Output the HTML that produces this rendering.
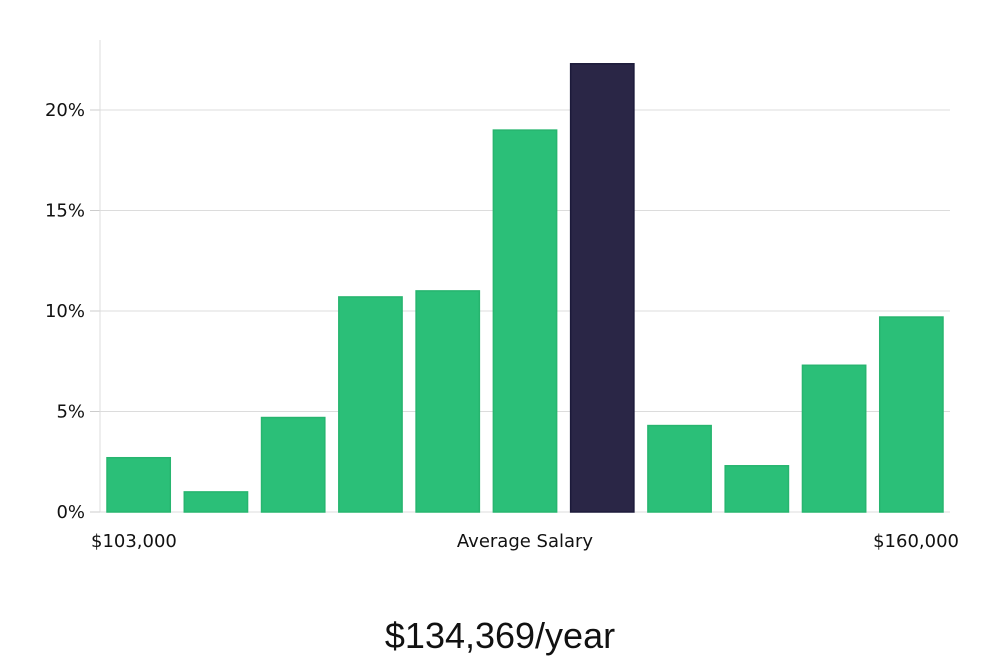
<!DOCTYPE html>
<html><head><meta charset="utf-8"><style>
body{margin:0;background:#fff;width:1000px;height:660px;overflow:hidden}
svg{display:block;font-family:"DejaVu Sans","Liberation Sans",sans-serif}
</style></head><body>
<svg id="chart" width="1000" height="660"></svg>
<script>
const categories=["b1","b2","b3","b4","b5","b6","b7","b8","b9","b10","b11"];
const values=[2.7,1.0,4.7,10.7,11.0,19.0,22.3,4.3,2.3,7.3,9.7];
const highlightIndex=6;
const yTicks=[0,5,10,15,20];
const yTickLabels=["0%","5%","10%","15%","20%"];
const xLabels=["$103,000","Average Salary","$160,000"];
const title="$134,369/year";

const NS="http://www.w3.org/2000/svg";
const svg=document.getElementById('chart');
const L=100,R=950,B=512,T=40;
const y=v=>B-v*(402/20);
const band=(R-L)/categories.length;
const x=i=>L+i*band;
function mk(t,a,p){const e=document.createElementNS(NS,t);for(const k in a)e.setAttribute(k,a[k]);(p||svg).appendChild(e);return e;}

const grid=mk('g',{});
yTicks.forEach((t,i)=>{
  if(t>0){const g=mk('line',{x1:L,x2:R,y1:y(t),y2:y(t),stroke:'#dcdcdc','stroke-width':1},grid);
  }
  const tk=mk('line',{x1:L-10,x2:L,y1:y(t),y2:y(t),stroke:'#ccc','stroke-width':1});
  
  const tx=mk('text',{x:L-15,y:y(t)+6,'text-anchor':'end','font-size':18,fill:'#111'});
  tx.textContent=yTickLabels[i];
  
});
const ax=mk('line',{x1:L,x2:L,y1:T,y2:B,stroke:'#ddd','stroke-width':1});

const xa=mk('line',{x1:L,x2:R,y1:B,y2:B,stroke:'#ddd','stroke-width':1});


values.forEach((v,i)=>{
  const hi=i===highlightIndex;
  const r=mk('rect',{x:x(i)+7,y:y(v),width:band-14,height:B-y(v),
    fill:hi?'#2a2646':'#2bbf78',stroke:hi?'#1c1a3a':'#27b56f','stroke-width':1.5});
  
  
});

const xl=[[91,'start'],[525,'middle'],[959,'end']];
xLabels.forEach((s,i)=>{
  const t=mk('text',{x:xl[i][0],y:547,'text-anchor':xl[i][1],'font-size':18,fill:'#111'});
  t.textContent=s;
  
});
const tt=mk('text',{x:500,y:648,'text-anchor':'middle','font-size':36,fill:'#111','font-family':'"Liberation Sans",sans-serif'});
tt.textContent=title;

</script>
</body></html>
